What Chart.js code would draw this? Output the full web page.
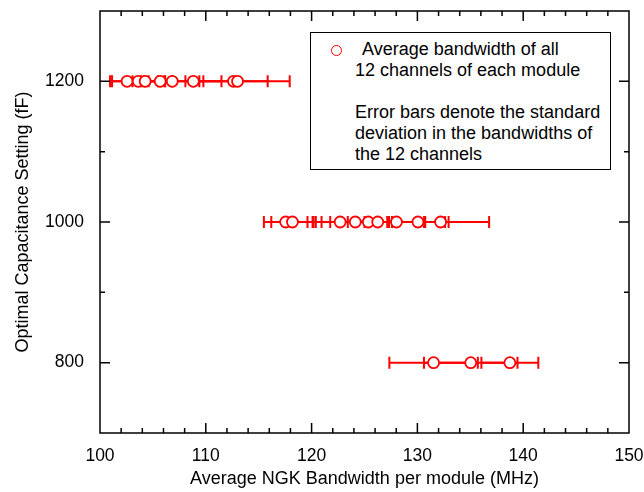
<!DOCTYPE html>
<html>
<head>
<meta charset="utf-8">
<script src="https://cdn.jsdelivr.net/npm/chart.js@4.4.1/dist/chart.umd.min.js"></script>
<style>
  html, body { margin: 0; padding: 0; background: #fff; }
  #wrap { position: relative; width: 644px; height: 492px; }
  .leg { position: absolute; font: 18px "Liberation Sans", Arial, sans-serif; line-height: 21px; color: #000; white-space: nowrap; }
  #legBox { position: absolute; left: 310px; top: 32px; width: 301px; height: 138px; box-sizing: border-box; border: 1.5px solid #000; background: #fff; }
  #legMark { position: absolute; left: 330.5px; top: 44.5px; width: 11px; height: 11px; box-sizing: border-box; border: 1.6px solid #f00; border-radius: 50%; background: #fff; }
</style>
</head>
<body>
<div id="wrap">
  <canvas id="chart" width="644" height="492"></canvas>
  <div id="legBox"></div>
  <div id="legMark"></div>
  <div class="leg" style="left:357px;top:38.5px;">&nbsp;Average bandwidth of all</div>
  <div class="leg" style="left:355px;top:59.5px;">12 channels of each module</div>
  <div class="leg" style="left:355px;top:101.5px;">Error bars denote the standard</div>
  <div class="leg" style="left:355px;top:122.5px;">deviation in the bandwidths of</div>
  <div class="leg" style="left:355px;top:143.5px;">the 12 channels</div>
</div>
<script>
// capacitance settings (fF) and per-module average bandwidth (MHz) with std dev
const bw1200 = [102.56, 103.61, 104.27, 105.69, 106.83, 108.82, 112.62, 113.0];
const sd1200 = [1.61, 2.47, 1.2, 1.1, 2.94, 2.66, 3.23, 4.93];
const bw1000 = [117.55, 118.19, 122.7, 124.13, 125.36, 126.25, 128.02, 130.05, 132.19];
const sd1000 = [2.06, 2.0, 2.3, 3.19, 5.27, 4.49, 4.6, 2.9, 4.59];
const bw800 = [131.53, 135.04, 138.74];
const sd800 = [4.18, 4.42, 2.69];

const xTicks = [100, 110, 120, 130, 140, 150];
const yTicks = [800, 1000, 1200];

const FONT = '"Liberation Sans", Arial, sans-serif';

const toPoints = (cap, bw, sd) => bw.map((v, i) => ({ x: v, y: cap, sd: sd[i] }));

const errorBars = {
  id: 'errorBars',
  beforeDatasetsDraw(chart) {
    const { ctx, scales: { x, y } } = chart;
    ctx.save();
    ctx.strokeStyle = '#f00';
    ctx.lineWidth = 2;
    chart.data.datasets.forEach(ds => {
      ds.data.forEach(p => {
        const x0 = x.getPixelForValue(p.x - p.sd);
        const x1 = x.getPixelForValue(p.x + p.sd);
        const yy = y.getPixelForValue(p.y);
        ctx.beginPath();
        ctx.moveTo(x0, yy); ctx.lineTo(x1, yy);
        ctx.moveTo(x0, yy - 6); ctx.lineTo(x0, yy + 6);
        ctx.moveTo(x1, yy - 6); ctx.lineTo(x1, yy + 6);
        ctx.stroke();
      });
    });
    ctx.restore();
  }
};

// closed frame with inward ticks on all four sides
const frame = {
  id: 'frame',
  afterDraw(chart) {
    const { ctx, chartArea: a, scales: { x, y } } = chart;
    ctx.save();
    ctx.strokeStyle = '#000';
    ctx.lineWidth = 1.5;
    ctx.strokeRect(a.left, a.top, a.right - a.left, a.bottom - a.top);
    ctx.beginPath();
    for (let v = 102; v < 150; v += 2) {
      const len = xTicks.includes(v) ? 10 : 5;
      const px = x.getPixelForValue(v);
      ctx.moveTo(px, a.bottom); ctx.lineTo(px, a.bottom - len);
      ctx.moveTo(px, a.top); ctx.lineTo(px, a.top + len);
    }
    for (let v = 800; v < 1300; v += 100) {
      const len = yTicks.includes(v) ? 10 : 5;
      const py = y.getPixelForValue(v);
      ctx.moveTo(a.left, py); ctx.lineTo(a.left + len, py);
      ctx.moveTo(a.right, py); ctx.lineTo(a.right - len, py);
    }
    ctx.stroke();
    ctx.restore();
  }
};

const noPad = s => { s.paddingTop = 0; s.paddingBottom = 0; s.paddingLeft = 0; s.paddingRight = 0; };

const pointStyle = {
  showLine: false,
  pointRadius: 5.5,
  pointBorderWidth: 1.8,
  pointBorderColor: '#f00',
  pointBackgroundColor: '#fff',
  borderColor: '#f00'
};

new Chart(document.getElementById('chart'), {
  type: 'scatter',
  data: {
    datasets: [
      { label: '1200', data: toPoints(1200, bw1200, sd1200), ...pointStyle },
      { label: '1000', data: toPoints(1000, bw1000, sd1000), ...pointStyle },
      { label: '800', data: toPoints(800, bw800, sd800), ...pointStyle }
    ]
  },
  options: {
    responsive: false,
    animation: false,
    layout: { padding: { top: 11, right: 15, left: 0, bottom: 0 } },
    plugins: { legend: { display: false }, tooltip: { enabled: false } },
    scales: {
      x: {
        type: 'linear',
        min: 100, max: 150,
        afterBuildTicks: s => { s.ticks = xTicks.map(v => ({ value: v })); },
        afterFit: s => { s.height = 59; noPad(s); },
        grid: { display: false },
        border: { display: false },
        ticks: { color: '#000', padding: 5, maxRotation: 0, callback: v => String(v), font: { family: FONT, size: 17.5 } },
        title: {
          display: true,
          text: 'Average NGK Bandwidth per module (MHz)',
          color: '#000',
          padding: { top: 4, bottom: 2 },
          font: { family: FONT, size: 18 }
        }
      },
      y: {
        type: 'linear',
        min: 700, max: 1300,
        afterBuildTicks: s => { s.ticks = yTicks.map(v => ({ value: v })); },
        afterFit: s => { s.width = 100; noPad(s); },
        grid: { display: false },
        border: { display: false },
        ticks: { color: '#000', padding: 8, callback: v => String(v), font: { family: FONT, size: 17.5 } },
        title: {
          display: true,
          text: 'Optimal Capacitance Setting (fF)',
          color: '#000',
          padding: { top: 12, bottom: 4 },
          font: { family: FONT, size: 18 }
        }
      }
    }
  },
  plugins: [errorBars, frame]
});
</script>
</body>
</html>
